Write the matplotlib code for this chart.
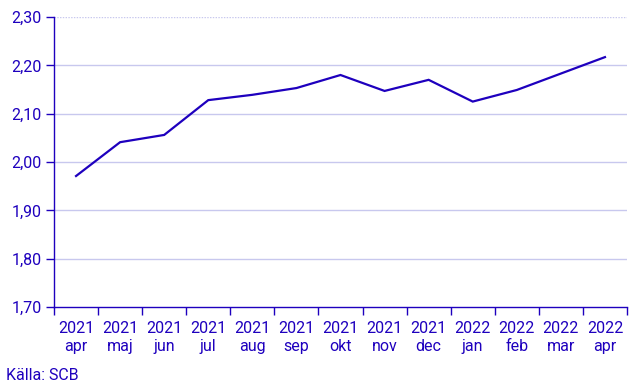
import matplotlib
matplotlib.use("Agg")
import matplotlib.pyplot as plt
import numpy as np

years = ["2021"] * 9 + ["2022"] * 4
months = ["apr", "maj", "jun", "jul", "aug", "sep", "okt", "nov", "dec", "jan", "feb", "mar", "apr"]
values = [1.971, 2.041, 2.056, 2.128, 2.139, 2.153, 2.180, 2.147, 2.170, 2.125, 2.149, 2.183, 2.217]
yticks = [1.70, 1.80, 1.90, 2.00, 2.10, 2.20, 2.30]

blue = "#1e00be"
grid = "#c8c8ee"
plt.rcParams['font.family'] = ['Roboto', 'DejaVu Sans']

fig = plt.figure(figsize=(6.43, 3.86), dpi=100)
ax = fig.add_axes([54/643, 1 - 307/386, (627-54)/643, (307-17)/386])

x = np.arange(len(values))
ax.plot(x, values, color=blue, linewidth=1.6, solid_joinstyle='miter')
ax.set_xlim(-0.5, len(values) - 0.5)
ax.set_ylim(1.70, 2.30)
ax.set_yticks(yticks)
ax.set_yticklabels([f"{v:.2f}".replace(".", ",") for v in yticks])
for v in yticks[1:]:
    ax.axhline(v, color=grid, linewidth=1, zorder=0,
               linestyle=(0, (1, 1)) if v == 2.30 else '-')

ax.set_xticks(x)
ax.set_xticklabels([f"{y}\n{m}" for y, m in zip(years, months)], linespacing=1.3)
ax.tick_params(axis='x', length=0, pad=10, colors=blue, labelsize=11.5)
ax.set_xticks(np.arange(-0.5, len(values)), minor=True)
ax.tick_params(axis='x', which='minor', length=6, color=blue, width=1)
ax.tick_params(axis='y', length=6, color=blue, colors=blue, labelsize=11.5, width=1, pad=3)

for s in ["top", "right"]:
    ax.spines[s].set_visible(False)
for s in ["left", "bottom"]:
    ax.spines[s].set_color(blue)
    ax.spines[s].set_linewidth(1)

fig.text(6/643, 1 - 375/386, "Källa: SCB", color=blue, fontsize=11.5, va='center', ha='left')
fig.savefig("out.png", dpi=100)
